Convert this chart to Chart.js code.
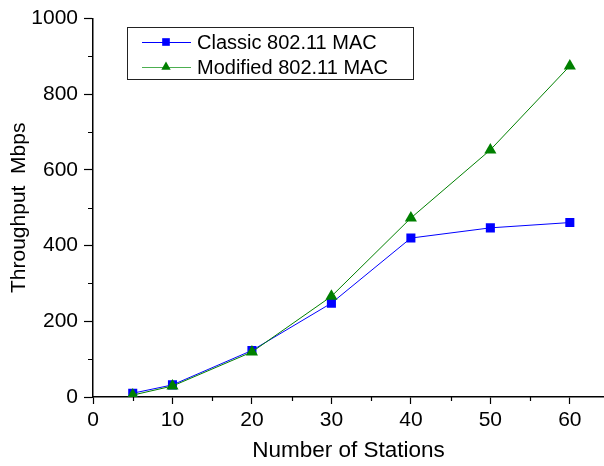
<!DOCTYPE html>
<html>
<head>
<meta charset="utf-8">
<script src="https://cdn.jsdelivr.net/npm/chart.js@4"></script>
<style>
  html, body { margin: 0; padding: 0; background: #fff; }
</style>
</head>
<body>
<canvas id="chart" width="604" height="466"></canvas>
<script>
const stations = [5, 10, 20, 30, 40, 50, 60];
const classicMac = [10, 32, 123, 248, 420, 447, 461];
const modifiedMac = [5, 29, 119, 266, 473, 653, 875];
const seriesNames = ["Classic 802.11 MAC", "Modified 802.11 MAC"];
const xMinorTicks = [5, 15, 25, 35, 45, 55];
const yMinorTicks = [100, 300, 500, 700, 900];

const FONT = "'Liberation Sans', Arial, sans-serif";

function toPoints(values) {
    return stations.map((s, i) => ({ x: s, y: values[i] }));
}

// short minor ticks, placed through the scales
const minorTicks = {
    id: "minorTicks",
    afterDraw(chart) {
        const ctx = chart.ctx;
        const x = chart.scales.x, y = chart.scales.y;
        ctx.save();
        ctx.strokeStyle = "#000";
        ctx.lineWidth = 1.2;
        ctx.beginPath();
        xMinorTicks.forEach(v => {
            const px = Math.round(x.getPixelForValue(v)) + 0.5;
            ctx.moveTo(px, x.top);
            ctx.lineTo(px, x.top + 4);
        });
        yMinorTicks.forEach(v => {
            const py = Math.round(y.getPixelForValue(v)) + 0.5;
            ctx.moveTo(y.right, py);
            ctx.lineTo(y.right - 5, py);
        });
        ctx.stroke();
        ctx.restore();
    }
};

// boxed legend inside the plot
const boxLegend = {
    id: "boxLegend",
    afterDraw(chart) {
        const ctx = chart.ctx;
        const left = 127, top = 27, w = 286, h = 52;
        ctx.save();
        ctx.fillStyle = "#fff";
        ctx.fillRect(left, top, w, h);
        ctx.strokeStyle = "#222";
        ctx.lineWidth = 1;
        ctx.strokeRect(left + 0.5, top + 0.5, w, h);
        const rows = [top + 15, top + 40];
        chart.data.datasets.slice().sort((a, b) => a.legendIndex - b.legendIndex).forEach((ds, i) => {
            const cy = rows[i];
            ctx.strokeStyle = ds.legendLine;
            ctx.lineWidth = 1;
            ctx.beginPath();
            ctx.moveTo(142, cy + 0.5);
            ctx.lineTo(191, cy + 0.5);
            ctx.stroke();
            ctx.fillStyle = ds.pointBackgroundColor;
            Chart.helpers.drawPoint(ctx, { pointStyle: ds.pointStyle, radius: 5.4, borderWidth: 0 }, 166, cy);
            ctx.fillStyle = "#000";
            ctx.font = "20px " + FONT;
            ctx.textBaseline = "middle";
            ctx.fillText(ds.label, 197, cy + 1);
        });
        ctx.restore();
    }
};

new Chart(document.getElementById("chart"), {
    type: "scatter",
    data: {
        datasets: [
            {
                label: seriesNames[1],
                legendIndex: 1,
                data: toPoints(modifiedMac),
                showLine: true,
                borderColor: "#008000",
                legendLine: "#4caf50",
                borderWidth: 1,
                pointStyle: "triangle",
                pointRadius: 7,
                pointBackgroundColor: "#008000",
                pointBorderWidth: 0,
                order: 0
            },
            {
                label: seriesNames[0],
                legendIndex: 0,
                data: toPoints(classicMac),
                showLine: true,
                borderColor: "#0000ff",
                legendLine: "#0000ff",
                borderWidth: 1,
                pointStyle: "rect",
                pointRadius: 6.4,
                pointBackgroundColor: "#0000ff",
                pointBorderWidth: 0,
                order: 1
            }
        ]
    },
    options: {
        responsive: false,
        animation: false,
        layout: { autoPadding: false, padding: { top: 15, right: 0, left: 0, bottom: 0 } },
        plugins: {
            legend: { display: false },
            tooltip: { enabled: false }
        },
        scales: {
            x: {
                type: "linear",
                min: 0,
                max: 64.3,
                afterFit: s => { s.height = 69; },
                border: { color: "#000", width: 1.5 },
                grid: { drawOnChartArea: false, tickLength: 7, tickColor: "#000", tickWidth: 1.2 },
                ticks: {
                    stepSize: 10,
                    includeBounds: false,
                    color: "#000",
                    padding: 4,
                    font: { family: FONT, size: 21 }
                },
                title: {
                    display: true,
                    text: "Number of Stations",
                    color: "#000",
                    padding: { top: 0, bottom: 2 },
                    font: { family: FONT, size: 22.5 }
                }
            },
            y: {
                min: 0,
                max: 1000,
                afterFit: s => { s.width = 93; },
                border: { color: "#000", width: 1.5 },
                grid: { drawOnChartArea: false, tickLength: 9, tickColor: "#000", tickWidth: 1.2 },
                ticks: {
                    stepSize: 200,
                    color: "#000",
                    padding: 6,
                    callback: v => String(v),
                    font: { family: FONT, size: 21 }
                },
                title: {
                    display: true,
                    text: "Throughput  Mbps",
                    color: "#000",
                    padding: { top: 7, bottom: 0 },
                    font: { family: FONT, size: 21 }
                }
            }
        }
    },
    plugins: [minorTicks, boxLegend]
});
</script>
</body>
</html>
